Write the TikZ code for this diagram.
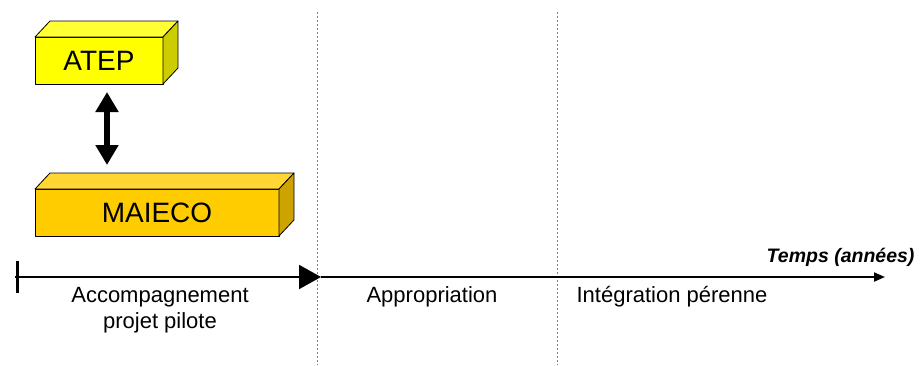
\documentclass[tikz,border=0pt]{standalone}
\usepackage{fontspec}
\setmainfont{Liberation Sans}
\usepackage{xcolor}
\usetikzlibrary{arrows.meta, positioning}
\definecolor{atepfront}{HTML}{FFFF00}
\definecolor{ateptop}{HTML}{FFFF33}
\definecolor{atepside}{HTML}{CCCC00}
\definecolor{maiecofront}{HTML}{FFCC00}
\definecolor{maiecotop}{HTML}{FFD633}
\definecolor{maiecoside}{HTML}{CCA300}
\newcommand{\cuboidfaces}[3]{%
  \draw[face, fill=#2] (#1.north west) -- ([shift={(15pt,16pt)}]#1.north west)
    -- ([shift={(15pt,16pt)}]#1.north east) -- (#1.north east) -- cycle;
  \draw[face, fill=#3] (#1.north east) -- ([shift={(15pt,16pt)}]#1.north east)
    -- ([shift={(15pt,16pt)}]#1.south east) -- (#1.south east) -- cycle;
}

\begin{document}
\begin{tikzpicture}[x=1pt, y=-1pt,
  face/.style={draw=black, line width=0.8pt, line join=round},
  front/.style={face, inner sep=0pt, outer sep=0pt, minimum height=47pt, font=\fontsize{28}{32}\selectfont},
  phase/.style={align=center, font=\fontsize{22}{26}\selectfont},
  divider/.style={draw=gray, line width=1pt, dash pattern=on 2pt off 2pt},
  bigarrow/.style={line width=6pt, {Triangle[width=22pt,length=20pt]}-{Triangle[width=22pt,length=20pt]}}
]
\useasboundingbox (0,0) rectangle (920,365);

% boxes
\node[front, fill=atepfront, minimum width=128pt] (atep) at (99,60.5) {ATEP};
\cuboidfaces{atep}{ateptop}{atepside}
\node[front, fill=maiecofront, minimum width=244pt] (maieco) at (157,212.5) {MAIECO};
\cuboidfaces{maieco}{maiecotop}{maiecoside}

\draw[bigarrow] ([yshift=-8pt]atep.south -| 107,0) -- ([yshift=24pt]maieco.north -| 107,0);

% phase dividers
\coordinate (d1top) at (317,12);
\coordinate (d1bot) at (317,365);
\coordinate (d2top) at (557,12);
\coordinate (d2bot) at (557,365);
\draw[divider] (d1top) -- (d1bot);
\draw[divider] (d2top) -- (d2bot);

% time axis
\coordinate (t0) at (15,277);
\coordinate (tmid) at (321,277);
\coordinate (t1) at (885,277);
\draw[line width=3pt] ([yshift=16pt]t0 -| 17,0) -- ([yshift=-16pt]t0 -| 17,0);
\draw[line width=2pt, -{Triangle[width=24pt,length=22pt]}] (t0) -- (tmid);
\draw[line width=2pt, -{Triangle[width=9pt,length=11pt]}] (tmid) -- (t1);
\node[anchor=base east, font=\fontsize{19.5}{22}\selectfont\bfseries\itshape] (temps) at (918,262) {Temps (années)};

\node[phase] (accomp) at (160,310) {Accompagnement\\projet pilote};
\node[phase] (approp) at (432,297) {Appropriation};
\node[phase] (integ) at (672,297) {Intégration pérenne};
\end{tikzpicture}
\end{document}
